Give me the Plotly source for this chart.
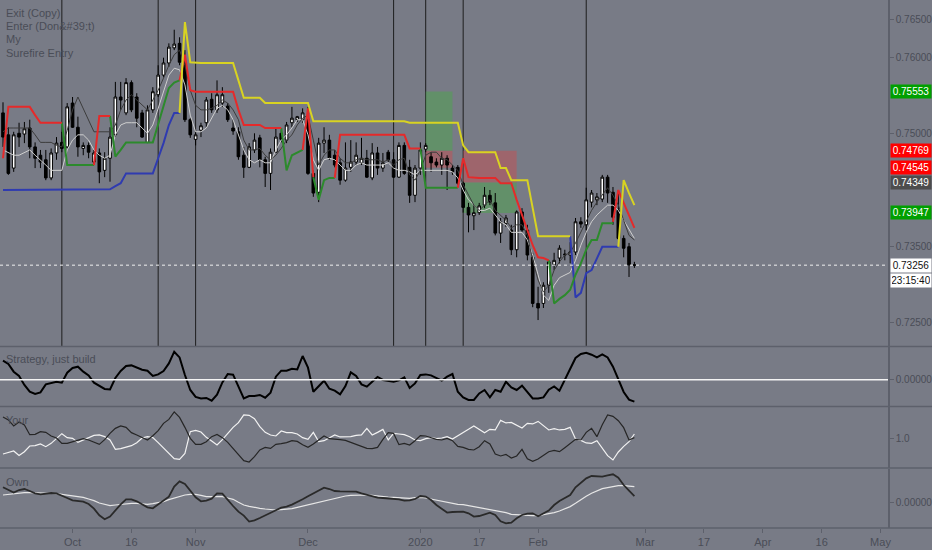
import pandas as pd
import plotly.graph_objects as go

# trading days (weekdays, no Christmas / New Year bars), extended into the future for the axis
all_days = [d.strftime('%Y-%m-%d') for d in pd.bdate_range('2019-09-12', '2020-05-05')
            if d.strftime('%m-%d') not in ('12-25', '01-01')]
dates = all_days[:119]

open_ = [0.7527, 0.7498, 0.7454, 0.7500, 0.7499, 0.7507, 0.7482, 0.7471, 0.7465, 0.7441,
         0.7474, 0.7488, 0.7482, 0.7540, 0.7508, 0.7480, 0.7484, 0.7462, 0.7474, 0.7451,
         0.7467, 0.7498, 0.7548, 0.7527, 0.7567, 0.7548, 0.7527, 0.7488, 0.7531, 0.7551,
         0.7577, 0.7593, 0.7613, 0.7619, 0.7593, 0.7518, 0.7492, 0.7504, 0.7514, 0.7545,
         0.7531, 0.7540, 0.7536, 0.7507, 0.7502, 0.7471, 0.7455, 0.7478, 0.7494, 0.7465,
         0.7447, 0.7475, 0.7500, 0.7491, 0.7514, 0.7518, 0.7518, 0.7518, 0.7447, 0.7422,
         0.7487, 0.7491, 0.7471, 0.7461, 0.7438, 0.7455, 0.7462, 0.7461, 0.7467, 0.7441,
         0.7474, 0.7454, 0.7475, 0.7465, 0.7442, 0.7484, 0.7455, 0.7418, 0.7454, 0.7479,
         0.7469, 0.7462, 0.7458, 0.7467, 0.7454, 0.7455, 0.7434, 0.7402, 0.7391, 0.7395,
         0.7405, 0.7418, 0.7408, 0.7368, 0.7381, 0.7372, 0.7346, 0.7396, 0.7372, 0.7336,
         0.7275, 0.7275, 0.7299, 0.7326, 0.7335, 0.7339, 0.7339, 0.7343, 0.7383, 0.7379,
         0.7409, 0.7412, 0.7413, 0.7442, 0.7422, 0.7398, 0.7361, 0.7350, 0.7326]
high = [0.7541, 0.7508, 0.7502, 0.7514, 0.7515, 0.7518, 0.7488, 0.7478, 0.7478, 0.7480,
        0.7495, 0.7502, 0.7540, 0.7548, 0.7522, 0.7488, 0.7488, 0.7478, 0.7480, 0.7475,
        0.7508, 0.7568, 0.7568, 0.7573, 0.7570, 0.7553, 0.7531, 0.7537, 0.7561, 0.7590,
        0.7600, 0.7619, 0.7637, 0.7627, 0.7610, 0.7520, 0.7504, 0.7514, 0.7548, 0.7553,
        0.7570, 0.7561, 0.7540, 0.7518, 0.7508, 0.7482, 0.7487, 0.7500, 0.7498, 0.7469,
        0.7480, 0.7508, 0.7504, 0.7515, 0.7535, 0.7523, 0.7533, 0.7535, 0.7451, 0.7494,
        0.7508, 0.7498, 0.7478, 0.7467, 0.7488, 0.7491, 0.7488, 0.7494, 0.7478, 0.7487,
        0.7482, 0.7474, 0.7478, 0.7475, 0.7488, 0.7488, 0.7465, 0.7458, 0.7488, 0.7487,
        0.7475, 0.7467, 0.7475, 0.7471, 0.7458, 0.7458, 0.7436, 0.7408, 0.7405, 0.7408,
        0.7429, 0.7425, 0.7421, 0.7388, 0.7392, 0.7379, 0.7398, 0.7401, 0.7379, 0.7342,
        0.7297, 0.7303, 0.7332, 0.7342, 0.7352, 0.7346, 0.7356, 0.7388, 0.7389, 0.7428,
        0.7425, 0.7421, 0.7445, 0.7445, 0.7429, 0.7425, 0.7365, 0.7355, 0.7330]
low = [0.7482, 0.7445, 0.7449, 0.7482, 0.7487, 0.7467, 0.7454, 0.7454, 0.7438, 0.7438,
       0.7465, 0.7475, 0.7480, 0.7507, 0.7469, 0.7471, 0.7467, 0.7458, 0.7434, 0.7442,
       0.7436, 0.7495, 0.7531, 0.7524, 0.7528, 0.7508, 0.7494, 0.7487, 0.7527, 0.7548,
       0.7574, 0.7588, 0.7610, 0.7590, 0.7515, 0.7494, 0.7484, 0.7495, 0.7508, 0.7527,
       0.7527, 0.7535, 0.7515, 0.7498, 0.7465, 0.7441, 0.7454, 0.7474, 0.7455, 0.7429,
       0.7425, 0.7474, 0.7488, 0.7487, 0.7508, 0.7515, 0.7514, 0.7445, 0.7416, 0.7409,
       0.7474, 0.7465, 0.7455, 0.7432, 0.7436, 0.7449, 0.7458, 0.7458, 0.7441, 0.7438,
       0.7445, 0.7449, 0.7462, 0.7441, 0.7441, 0.7445, 0.7408, 0.7409, 0.7445, 0.7475,
       0.7449, 0.7455, 0.7445, 0.7425, 0.7445, 0.7432, 0.7395, 0.7369, 0.7372, 0.7392,
       0.7401, 0.7405, 0.7365, 0.7355, 0.7376, 0.7339, 0.7336, 0.7369, 0.7332, 0.7270,
       0.7253, 0.7269, 0.7289, 0.7319, 0.7328, 0.7332, 0.7328, 0.7339, 0.7375, 0.7372,
       0.7402, 0.7405, 0.7409, 0.7408, 0.7379, 0.7359, 0.7336, 0.7310, 0.7322]
close = [0.7495, 0.7447, 0.7498, 0.7495, 0.7506, 0.7482, 0.7467, 0.7462, 0.7441, 0.7474,
         0.7487, 0.7480, 0.7535, 0.7508, 0.7482, 0.7484, 0.7475, 0.7474, 0.7449, 0.7467,
         0.7495, 0.7548, 0.7544, 0.7567, 0.7531, 0.7520, 0.7495, 0.7531, 0.7555, 0.7577,
         0.7593, 0.7614, 0.7618, 0.7594, 0.7518, 0.7498, 0.7498, 0.7510, 0.7544, 0.7531,
         0.7551, 0.7551, 0.7518, 0.7503, 0.7469, 0.7455, 0.7482, 0.7491, 0.7465, 0.7447,
         0.7475, 0.7495, 0.7492, 0.7511, 0.7520, 0.7522, 0.7527, 0.7447, 0.7421, 0.7487,
         0.7491, 0.7467, 0.7458, 0.7438, 0.7454, 0.7462, 0.7471, 0.7467, 0.7442, 0.7474,
         0.7454, 0.7461, 0.7465, 0.7442, 0.7484, 0.7447, 0.7418, 0.7454, 0.7478, 0.7484,
         0.7461, 0.7458, 0.7467, 0.7458, 0.7449, 0.7434, 0.7402, 0.7392, 0.7395, 0.7404,
         0.7418, 0.7409, 0.7368, 0.7383, 0.7388, 0.7346, 0.7396, 0.7372, 0.7339, 0.7275,
         0.7269, 0.7299, 0.7330, 0.7332, 0.7348, 0.7340, 0.7343, 0.7383, 0.7380, 0.7412,
         0.7421, 0.7416, 0.7442, 0.7421, 0.7389, 0.7361, 0.7348, 0.7326, 0.73256]

# "Surefire Entry" coloured stop lines (None = not drawn on that bar)
exit_red = ([0.7467, 0.7535, 0.7535, 0.7535, 0.7535, 0.7535, 0.7524, 0.7514, 0.7514, 0.7514,
             0.7514, 0.7514] + [None] * 5 + [0.7458, 0.7523, 0.7523, 0.7523] + [None] * 12 +
            [0.7570, 0.7604, 0.7557] + [0.7555] * 8 + [0.7531] + [0.7511] * 4 + [0.7507] * 4 +
            [None] * 3 + [0.7478, 0.7533, 0.7442] + [None] * 3 + [0.7441] + [0.7498] * 13 +
            [0.7480] * 3 + [None] * 6 + [0.7428, 0.7467, 0.7442] + [0.7441] * 5 + [0.7434] * 3 +
            [0.7412, 0.7392, 0.7372, 0.7352, 0.7336, 0.7335, 0.7332] + [None] * 11 +
            [0.7383, 0.7425, 0.7408, 0.7392, 0.7375])
enter_yellow = ([None] * 33 + [0.7527, 0.7647, 0.7594] + [0.7593] * 8 + [0.7570] + [0.7547] * 4 +
                [0.7540] * 9 + [0.7516] * 18 + [0.7514] * 10 + [0.7484] + [0.7475] * 6 +
                [0.7454] * 2 + [0.7438] * 4 + [0.7401] + [0.7364] * 7 + [None] * 8 +
                [0.7350, 0.7438, 0.7421, 0.7405])
stop_green = ([None] * 11 + [0.7514] + [0.7458] * 6 + [None] * 2 + [0.7523, 0.7469, 0.7478] +
              [0.7488] * 6 + [0.7512, 0.7536, 0.7560, 0.7567, 0.7570] + [None] * 18 +
              [0.7507, 0.7451, 0.7471, 0.7474, 0.7478, None, 0.7442, 0.7412, 0.7438, 0.7441, 0.7441] +
              [None] * 15 + [0.7480] + [0.7428] * 7 + [None] * 16 +
              [0.7332, 0.7275, 0.7281, 0.7286, 0.7293, 0.7313, 0.7328, 0.7346, 0.7359, 0.7359,
               0.7381, 0.7381, 0.7381] + [None] * 4)
stop_blue = ([0.7425] * 20 + [0.7426, 0.7430, 0.7434] + [0.7447] * 6 + [0.7467, 0.7487, 0.7511, 0.7527, 0.7527] +
             [None] * 72 + [0.7364, 0.7283, 0.7289, 0.7315, 0.7319, 0.7335] + [0.7350] * 4 + [None] * 3)

# "My" thin lines
my_dark = [0.7502, 0.7507, 0.7507, 0.7507, 0.7507, 0.7507, 0.7498, 0.7488, 0.7488, 0.7488,
           0.7484, 0.7482, 0.7504, 0.7531, 0.7548, 0.7533, 0.7518, 0.7502, 0.7502, 0.7502,
           0.7502, 0.7511, 0.7531, 0.7544, 0.7551, 0.7544, 0.7537, 0.7531, 0.7544, 0.7557,
           0.7573, 0.7590, 0.7604, 0.7610, 0.7590, 0.7557, 0.7537, 0.7531, 0.7531, 0.7533,
           0.7537, 0.7544, 0.7540, 0.7531, 0.7518, 0.7491, 0.7478, 0.7478, 0.7480, 0.7471,
           0.7465, 0.7471, 0.7480, 0.7491, 0.7498, 0.7511, 0.7520, 0.7524, 0.7491, 0.7458,
           0.7471, 0.7478, 0.7478, 0.7467, 0.7461, 0.7461, 0.7465, 0.7467, 0.7465, 0.7465,
           0.7465, 0.7462, 0.7465, 0.7458, 0.7465, 0.7467, 0.7445, 0.7438, 0.7451, 0.7471,
           0.7475, 0.7475, 0.7467, 0.7465, 0.7458, 0.7451, 0.7432, 0.7418, 0.7405, 0.7398,
           0.7405, 0.7412, 0.7398, 0.7392, 0.7385, 0.7375, 0.7379, 0.7379, 0.7365, 0.7332,
           0.7306, 0.7290, 0.7299, 0.7319, 0.7330, 0.7339, 0.7342, 0.7355, 0.7369, 0.7383,
           0.7398, 0.7409, 0.7418, 0.7428, 0.7418, 0.7405, 0.7385, 0.7365, 0.7359]
my_light = [0.7478, 0.7475, 0.7471, 0.7471, 0.7475, 0.7478, 0.7471, 0.7465, 0.7458, 0.7451,
            0.7451, 0.7451, 0.7478, 0.7491, 0.7498, 0.7498, 0.7491, 0.7478, 0.7471, 0.7467,
            0.7471, 0.7498, 0.7511, 0.7514, 0.7514, 0.7514, 0.7507, 0.7500, 0.7511, 0.7533,
            0.7557, 0.7577, 0.7586, 0.7584, 0.7564, 0.7524, 0.7502, 0.7502, 0.7507, 0.7520,
            0.7533, 0.7537, 0.7531, 0.7518, 0.7498, 0.7478, 0.7465, 0.7461, 0.7465, 0.7461,
            0.7461, 0.7478, 0.7491, 0.7498, 0.7507, 0.7518, 0.7518, 0.7498, 0.7465, 0.7451,
            0.7465, 0.7467, 0.7465, 0.7458, 0.7451, 0.7451, 0.7458, 0.7461, 0.7458, 0.7458,
            0.7458, 0.7458, 0.7461, 0.7454, 0.7451, 0.7451, 0.7449, 0.7445, 0.7451, 0.7451,
            0.7451, 0.7451, 0.7451, 0.7451, 0.7449, 0.7441, 0.7425, 0.7412, 0.7405, 0.7398,
            0.7398, 0.7401, 0.7392, 0.7383, 0.7379, 0.7369, 0.7369, 0.7369, 0.7359, 0.7339,
            0.7313, 0.7286, 0.7279, 0.7299, 0.7309, 0.7313, 0.7316, 0.7332, 0.7352, 0.7369,
            0.7383, 0.7392, 0.7398, 0.7405, 0.7405, 0.7398, 0.7385, 0.7372, 0.7361]

# signal bars (vertical lines) and entry zones
signal_dates = ['2019-09-27', '2019-10-23', '2019-11-01', '2019-12-24',
                '2020-01-03', '2020-01-14', '2020-02-14']
zone_start = ['2020-01-03', '2020-01-03', '2020-01-14', '2020-01-14']
zone_end = ['2020-01-10', '2020-01-10', '2020-01-28', '2020-01-28']
zone_top = [0.75553, 0.74769, 0.74769, 0.74349]
zone_bottom = [0.74769, 0.74545, 0.74349, 0.73947]
zone_color = ['rgba(70,170,70,0.45)', 'rgba(215,70,70,0.40)',
              'rgba(215,70,70,0.40)', 'rgba(70,170,70,0.45)']

# right scale labels
label_prices = [0.75553, 0.74769, 0.74545, 0.74349, 0.73947, 0.73256]
label_colors = ['#00a000', '#ff0000', '#ff0000', '#4d4d4d', '#00a000', '#ffffff']
last_price = 0.73256
countdown = '23:15:40'
price_ticks = [0.725, 0.735, 0.750, 0.760, 0.765]

# lower panes
strategy = [0.0019, 0.00157, 0.0008, 0.00037, -0.00053, -0.0012, -0.00143, -0.00127, -0.00047, -0.00037,
            -0.0002, -0.0003, 0.0007, 0.00117, 0.0013, 0.0008, 0.00043, -0.0003, -0.0006, -0.00093,
            -0.00097, 0.00017, 0.00087, 0.00137, 0.00143, 0.00123, 0.001, 0.0009, 0.00037, 0.00053,
            0.00087, 0.00163, 0.0028, 0.00223, 0.00047, -0.00103, -0.00173, -0.00187, -0.00183, -0.0021,
            -0.0015, -0.00027, 0.00057, 0.0005, -0.0007, -0.00187, -0.00163, -0.00163, -0.00153, -0.0018,
            -0.0013, 0.0003, 0.0009, 0.0009, 0.0011, 0.00103, 0.00237, 0.0012, -0.0012, -0.0007,
            -0.0001, -0.0009, -0.0011, -0.00147, -0.00063, 0.00073, 0.00037, -0.00047, -0.0007, -0.0002,
            0.00027, -0.00003, -0.00013, -0.0002, -0.00007, 0.00023, -0.00083, -0.00037, 0.00047, 0.00053,
            0.00043, 0.0002, -0.0001, 0.0003, 0.00057, -0.0012, -0.00177, -0.00203, -0.00203, -0.00137,
            -0.00103, -0.00177, -0.00103, -0.0012, -0.0002, -0.00077, -0.00103, -0.0006, -0.00127, -0.00187,
            -0.00187, -0.00177, -0.001, -0.00067, -0.0011, -0.00003, 0.00097, 0.00217, 0.00257, 0.0027,
            0.0025, 0.00223, 0.00253, 0.00223, 0.0013, -0.00003, -0.00123, -0.002, -0.0022]
your_dark = [1.217, 1.187, 1.127, 1.167, 1.137, 1.04, 1.043, 1.07, 1.063, 1.027,
             1.007, 0.953, 0.953, 0.97, 0.99, 1.0, 0.987, 0.967, 0.943, 0.99,
             1.053, 1.103, 1.127, 1.113, 1.06, 1.037, 1.01, 0.987, 1.03, 1.08,
             1.153, 1.193, 1.267, 1.213, 1.113, 1.003, 0.943, 0.943, 0.97, 1.02,
             1.043, 1.01, 0.963, 0.9, 0.837, 0.78, 0.767, 0.82, 0.887, 0.913,
             0.903, 0.943, 0.95, 0.96, 0.98, 0.973, 0.94, 0.913, 0.947, 0.987,
             1.027, 1.0, 0.997, 0.99, 0.983, 0.963, 0.947, 0.92, 0.903, 0.9,
             0.913, 0.993, 1.06, 1.053, 0.94, 0.953, 0.937, 0.98, 1.03, 1.027,
             1.007, 0.993, 0.987, 1.003, 0.98, 0.923, 0.913, 0.893, 0.887, 0.92,
             0.98, 0.947, 0.847, 0.827, 0.843, 0.807, 0.827, 0.893, 0.8, 0.773,
             0.797, 0.837, 0.87, 0.883, 0.87, 0.91, 0.947, 0.993, 0.987, 1.063,
             1.103, 1.02, 1.14, 1.237, 1.223, 1.18, 1.11, 0.987, 1.01]
your_light = [0.847, 0.86, 0.877, 0.833, 0.87, 0.927, 0.93, 0.947, 0.92, 0.953,
              1.0, 1.05, 1.01, 1.003, 0.963, 0.987, 1.007, 1.033, 1.037, 1.02,
              0.987, 0.893, 0.9, 0.913, 0.93, 0.96, 1.007, 1.02, 1.01, 0.96,
              0.903, 0.853, 0.8, 0.793, 0.853, 1.07, 1.083, 1.067, 1.013, 0.977,
              0.937, 0.99, 1.05, 1.113, 1.16, 1.237, 1.233, 1.2, 1.12, 1.063,
              1.037, 1.027, 1.077, 1.06, 1.06, 1.047, 1.01, 0.993, 1.063, 0.97,
              0.98, 1.007, 1.037, 1.017, 1.017, 1.02, 1.033, 1.037, 1.103, 1.037,
              1.063, 1.093, 0.987, 1.053, 1.047, 1.04, 1.02, 0.987, 0.98, 1.0,
              1.01, 1.0, 1.007, 1.02, 0.997, 1.027, 1.06, 1.093, 1.127, 1.09,
              1.06, 1.093, 1.087, 1.183, 1.157, 1.163, 1.137, 1.107, 1.153, 1.147,
              1.173, 1.127, 1.087, 1.1, 1.087, 1.093, 1.113, 0.997, 0.983, 0.957,
              0.953, 0.98, 0.907, 0.83, 0.787, 0.867, 0.923, 0.97, 1.047]
own_dark = [0.0015, 0.00127, 0.00097, 0.00123, 0.00133, 0.00113, 0.0009, 0.0008, 0.00087, 0.00093,
            0.0009, 0.0007, 0.00043, 0.0002, 0.00017, 0.00007, -0.00017, -0.00063, -0.0013, -0.0017,
            -0.00143, -0.0008, -0.0002, 0.0003, 0.0003, 0.0001, -0.00023, -0.0005, -0.0006, -0.00023,
            0.00013, 0.00057, 0.00157, 0.0021, 0.00183, 0.0012, 0.0005, 0.0001, 0.00017, 0.00037,
            0.0009, 0.00087, 0.00023, -0.00037, -0.00093, -0.00133, -0.00193, -0.0018, -0.00157, -0.00133,
            -0.0011, -0.0008, -0.00053, -0.00043, -0.00023, 0.0, 0.0003, 0.0006, 0.00087, 0.00117,
            0.00147, 0.00133, 0.00113, 0.0011, 0.00107, 0.00107, 0.00107, 0.0009, 0.00077, 0.0006,
            0.00047, 0.00043, 0.0004, 0.00037, 0.0003, 0.00017, 0.0002, 0.00033, 0.00063, 0.00057,
            0.00023, -0.00027, -0.00067, -0.00103, -0.00097, -0.00093, -0.00093, -0.0011, -0.00143, -0.00137,
            -0.00117, -0.00103, -0.00127, -0.0019, -0.0021, -0.00203, -0.0016, -0.00127, -0.00113, -0.0011,
            -0.0014, -0.00113, -0.00083, -0.00027, 0.00013, 0.00043, 0.00073, 0.0015, 0.00197, 0.0024,
            0.00263, 0.00263, 0.00257, 0.0027, 0.0028, 0.00247, 0.00173, 0.00117, 0.00063]
own_light = [0.00073, 0.0008, 0.0009, 0.00093, 0.00097, 0.00097, 0.00097, 0.00097, 0.00093, 0.0009,
             0.00087, 0.0008, 0.00073, 0.00063, 0.0006, 0.0005, 0.00033, 0.00017, -0.00007, -0.00023,
             -0.00033, -0.00027, -0.0002, -0.00013, -0.0001, -0.0001, -0.00017, -0.0002, -0.00013, -0.00003,
             0.00007, 0.00027, 0.00043, 0.0006, 0.00073, 0.0008, 0.0008, 0.0007, 0.00057, 0.00057,
             0.0006, 0.00057, 0.00043, 0.0003, 0.0, -0.00027, -0.0004, -0.00053, -0.0006, -0.00067,
             -0.00073, -0.00077, -0.00073, -0.0007, -0.00063, -0.0005, -0.00037, -0.00023, -0.0001, 0.00003,
             0.00017, 0.0003, 0.00043, 0.00057, 0.00063, 0.0007, 0.00073, 0.00073, 0.00073, 0.0007,
             0.00063, 0.0006, 0.00053, 0.0005, 0.00047, 0.00043, 0.0004, 0.00047, 0.0005, 0.00043,
             0.00033, 0.00023, 0.0001, -0.00003, -0.00013, -0.0002, -0.00023, -0.00033, -0.00043, -0.00053,
             -0.00067, -0.00073, -0.0008, -0.0009, -0.00103, -0.0012, -0.00123, -0.00133, -0.00133, -0.00133,
             -0.00133, -0.00123, -0.00117, -0.00103, -0.00087, -0.00067, -0.00043, -0.0001, 0.00027, 0.0006,
             0.0009, 0.00113, 0.00137, 0.00147, 0.00157, 0.00167, 0.00167, 0.00163, 0.00157]

tick_dates = ['2019-10-01', '2019-10-16', '2019-11-01', '2019-12-02', '2020-01-02', '2020-01-17',
              '2020-02-03', '2020-03-02', '2020-03-17', '2020-04-01', '2020-04-16', '2020-05-01']
tick_text = ['Oct', '16', 'Nov', 'Dec', '2020', '17', 'Feb', 'Mar', '17', 'Apr', '16', 'May']

BG = '#787b86'
GRID = '#5d606b'
TXT = '#4a4d57'
FONT = 'Liberation Sans Narrow, Liberation Sans, Arial'


def pos(d):
    return all_days.index(d)


fig = go.Figure()

# lines drawn under the candles
for ys, col, w in [(my_light, '#cfcfcf', 1), (my_dark, '#3c3c3c', 1)]:
    fig.add_trace(go.Scatter(x=dates, y=ys, mode='lines', line=dict(color=col, width=w),
                             showlegend=False, hoverinfo='skip'))

fig.add_trace(go.Candlestick(
    x=dates, open=open_, high=high, low=low, close=close,
    increasing=dict(line=dict(color='black', width=1), fillcolor='white'),
    decreasing=dict(line=dict(color='black', width=1), fillcolor='black'),
    whiskerwidth=0, showlegend=False))

for ys, col in [(stop_blue, '#2f3bb0'), (stop_green, '#2c8a2c'),
                (exit_red, '#e52a2a'), (enter_yellow, '#d8d322')]:
    fig.add_trace(go.Scatter(x=dates, y=ys, mode='lines', line=dict(color=col, width=2),
                             connectgaps=False, showlegend=False, hoverinfo='skip'))

# lower panes
fig.add_trace(go.Scatter(x=dates, y=strategy, yaxis='y2', mode='lines',
                         line=dict(color='black', width=2), showlegend=False))
fig.add_trace(go.Scatter(x=dates, y=your_light, yaxis='y3', mode='lines',
                         line=dict(color='#f2f2f2', width=1.2), showlegend=False))
fig.add_trace(go.Scatter(x=dates, y=your_dark, yaxis='y3', mode='lines',
                         line=dict(color='#262626', width=1.2), showlegend=False))
fig.add_trace(go.Scatter(x=dates, y=own_light, yaxis='y4', mode='lines',
                         line=dict(color='#e6e6e6', width=1.2), showlegend=False))
fig.add_trace(go.Scatter(x=dates, y=own_dark, yaxis='y4', mode='lines',
                         line=dict(color='#2a2a2a', width=1.8), showlegend=False))

shapes = []
for s, e, t, b, c in zip(zone_start, zone_end, zone_top, zone_bottom, zone_color):
    shapes.append(dict(type='rect', xref='x', yref='y', x0=pos(s), x1=pos(e), y0=b, y1=t,
                       fillcolor=c, line=dict(width=0), layer='below'))
for d in signal_dates:
    shapes.append(dict(type='line', xref='x', yref='y domain', x0=pos(d), x1=pos(d), y0=0, y1=1,
                       line=dict(color='#1e1e1e', width=1), layer='below'))
shapes.append(dict(type='line', xref='paper', yref='y', x0=0, x1=1, y0=last_price, y1=last_price,
                   line=dict(color='#f0f0f0', width=1, dash='dot')))
shapes.append(dict(type='line', xref='paper', yref='y2', x0=0, x1=1, y0=0, y1=0,
                   line=dict(color='#f4f4f4', width=1.5)))
# pane separators
for yp in [0.3438, 0.2301, 0.1136, 0.0]:
    shapes.append(dict(type='line', xref='paper', yref='paper', x0=0, x1=1.06, y0=yp, y1=yp,
                       line=dict(color=GRID, width=1.5)))

annotations = []
for p, c in zip(label_prices, label_colors):
    annotations.append(dict(x=1, xref='paper', y=p, yref='y', xanchor='left', xshift=2,
                            text=f'{p:.5f}', showarrow=False, bgcolor=c, borderpad=1, width=38,
                            font=dict(family=FONT, size=10,
                                      color='#111111' if c == '#ffffff' else 'white')))
annotations.append(dict(x=1, xref='paper', y=last_price, yref='y', yshift=-15, xanchor='left',
                        xshift=2, text=countdown, showarrow=False, bgcolor='white', borderpad=1,
                        width=38, font=dict(family=FONT, size=10, color='#111111')))
for i, t in enumerate(['Exit (Copy)', 'Enter (Don&amp;#39;t)', 'My', 'Surefire Entry']):
    annotations.append(dict(x=0.005, xref='paper', y=1 - (13 + 13.2 * i) / 528, yref='paper',
                            xanchor='left', yanchor='middle', text=t, showarrow=False,
                            font=dict(family=FONT, size=11, color=TXT)))
for t, yp in [('Strategy, just build', 1 - 359 / 528), ('Your', 1 - 420 / 528), ('Own', 1 - 482 / 528)]:
    annotations.append(dict(x=0.005, xref='paper', y=yp, yref='paper', xanchor='left',
                            yanchor='middle', text=t, showarrow=False,
                            font=dict(family=FONT, size=11, color=TXT)))

yax = dict(side='right', anchor='x', showgrid=False, zeroline=False, showline=True,
           linecolor=GRID, linewidth=1.5, ticks='outside', ticklen=4, tickcolor=GRID,
           automargin=False, tickfont=dict(family=FONT, size=10, color=TXT))

fig.update_layout(
    width=932, height=550,
    margin=dict(l=0, r=44, t=0, b=22),
    paper_bgcolor=BG, plot_bgcolor=BG,
    font=dict(family=FONT, color=TXT),
    showlegend=False,
    hovermode=False,
    xaxis=dict(type='category', categoryorder='array', categoryarray=all_days,
               range=[-0.56, 165.4], tickvals=tick_dates, ticktext=tick_text,
               showgrid=False, zeroline=False, showline=False, anchor='y4', automargin=False,
               ticks='outside', ticklen=4, tickcolor=GRID,
               tickfont=dict(family=FONT, size=11, color=TXT),
               rangeslider=dict(visible=False)),
    yaxis=dict(yax, domain=[0.3447, 1], range=[0.72187, 0.76763],
               tickvals=price_ticks, tickformat='.5f'),
    yaxis2=dict(yax, domain=[0.2311, 0.3428], range=[-0.00263, 0.00327],
                tickvals=[0], tickformat='.5f'),
    yaxis3=dict(yax, domain=[0.1136, 0.2292], range=[0.7067, 1.3167],
                tickvals=[1.0], tickformat='.1f'),
    yaxis4=dict(yax, domain=[0, 0.1117], range=[-0.00257, 0.00333],
                tickvals=[0], tickformat='.5f'),
    shapes=shapes,
    annotations=annotations,
)

# the page body has a default 8px margin; drop it so the figure sits at the window corner
fig.write_html("out.html", config={'displayModeBar': False},
               post_script="document.body.style.margin='0px';")
